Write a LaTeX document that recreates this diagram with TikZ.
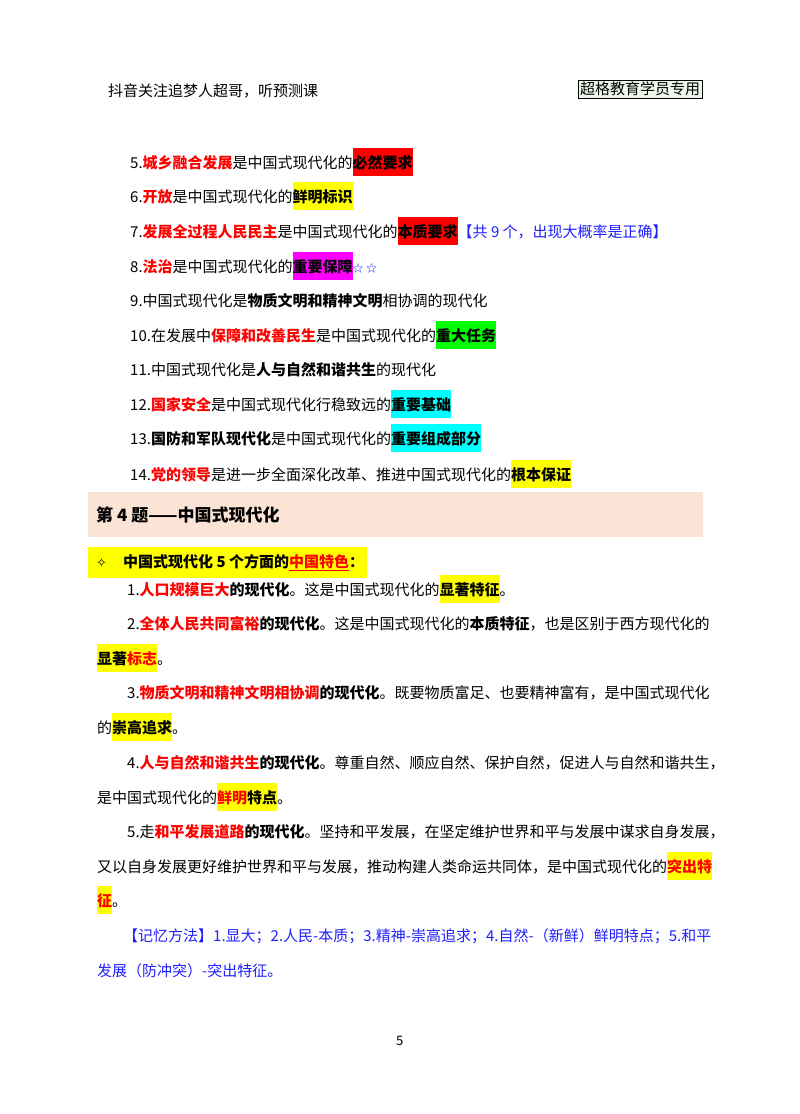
\documentclass[tikz,border=0pt]{standalone}
\usepackage{fontspec}
\setmainfont{Noto Sans CJK SC}
\newfontfamily\symfont{DejaVu Sans}
\definecolor{hred}{HTML}{FF0000}
\definecolor{hyel}{HTML}{FFFF00}
\definecolor{hmag}{HTML}{FF00FF}
\definecolor{hgrn}{HTML}{00FF00}
\definecolor{hcyn}{HTML}{00FFFF}
\definecolor{tblue}{HTML}{2020FF}
\definecolor{peach}{HTML}{FBE4D5}
\definecolor{boxbg}{HTML}{EEF6EA}
\newcommand\hlt[2]{{\setlength{\fboxsep}{0pt}\colorbox{#1}{\rule[-8pt]{0pt}{28pt}#2}}}
\newcommand\rd[1]{\textcolor{hred}{\textbf{#1}}}
\newcommand\bd[1]{\textbf{#1}}
\tikzset{ln/.style={anchor=base west,inner sep=0pt,font=\fontsize{15}{18}\selectfont}}
\begin{document}
\begin{tikzpicture}[x=1pt,y=-1pt]
\useasboundingbox (0,0) rectangle (800,1114);
\fill[white] (0,0) rectangle (800,1114);
\node[ln] (hdr) at (108,96) {抖音关注追梦人超哥，听预测课};
\node[anchor=center,draw=black,line width=0.8pt,fill=boxbg,inner sep=2pt,font=\fontsize{15}{18}\selectfont] (tag) at (640,89) {超格教育学员专用};
\node[ln] (l5) at (130,168) {5.\rd{城乡融合发展}是中国式现代化的\hlt{hred}{\bd{必然要求}}};
\node[ln] (l6) at (130,202) {6.\rd{开放}是中国式现代化的\hlt{hyel}{\bd{鲜明标识}}};
\node[ln] (l7) at (130,237) {7.\rd{发展全过程人民民主}是中国式现代化的\hlt{hred}{\bd{本质要求}}\textcolor{tblue}{【共 9 个，出现大概率是正确】}};
\node[ln] (l8) at (130,272) {8.\rd{法治}是中国式现代化的\hlt{hmag}{\bd{重要保障}}\textcolor{tblue}{\fontsize{11}{12}\selectfont ☆ ☆}};
\node[ln] (l9) at (130,306) {9.中国式现代化是\bd{物质文明和精神文明}相协调的现代化};
\node[ln] (l10) at (130,341) {10.在发展中\rd{保障和改善民生}是中国式现代化的\hlt{hgrn}{\bd{重大任务}}};
\node[ln] (l11) at (130,375) {11.中国式现代化是\bd{人与自然和谐共生}的现代化};
\node[ln] (l12) at (130,410) {12.\rd{国家安全}是中国式现代化行稳致远的\hlt{hcyn}{\bd{重要基础}}};
\node[ln] (l13) at (130,444) {13.\bd{国防和军队现代化}是中国式现代化的\hlt{hcyn}{\bd{重要组成部分}}};
\node[ln] (l14) at (130,480) {14.\rd{党的领导}是进一步全面深化改革、推进中国式现代化的\hlt{hyel}{\bd{根本保证}}};
\fill[peach] (88,492) rectangle (703,537);
\node[ln,font=\fontsize{17}{20}\selectfont\bfseries] (h4) at (96,521) {第 4 题——中国式现代化};
\fill[hyel] (88,547) rectangle (367,578);
\node[ln] (sub) at (96,567) {{\symfont\fontsize{13}{15}\selectfont ✧}\hspace{16pt}\bd{中国式现代化 5 个方面的\textcolor{hred}{\underline{中国特色}}：}};
\node[ln] (p1) at (127,595) {1.\rd{人口规模巨大}\bd{的现代化}。这是中国式现代化的\hlt{hyel}{\bd{显著特征}}。};
\node[ln] (p2a) at (127,629) {2.\rd{全体人民共同富裕}\bd{的现代化}。这是中国式现代化的\bd{本质特征}，也是区别于西方现代化的};
\node[ln] (p2b) at (97,664) {\hlt{hyel}{\bd{显著}\rd{标志}}。};
\node[ln] (p3a) at (127,698) {3.\rd{物质文明和精神文明相协调}\bd{的现代化}。既要物质富足、也要精神富有，是中国式现代化};
\node[ln] (p3b) at (97,733) {的\hlt{hyel}{\bd{崇高追求}}。};
\node[ln] (p4a) at (127,768) {4.\rd{人与自然和谐共生}\bd{的现代化}。尊重自然、顺应自然、保护自然，促进人与自然和谐共生，};
\node[ln] (p4b) at (97,803) {是中国式现代化的\hlt{hyel}{\rd{鲜明}\bd{特点}}。};
\node[ln] (p5a) at (127,837) {5.走\rd{和平发展道路}\bd{的现代化}。坚持和平发展，在坚定维护世界和平与发展中谋求自身发展，};
\node[ln] (p5b) at (97,872) {又以自身发展更好维护世界和平与发展，推动构建人类命运共同体，是中国式现代化的\hlt{hyel}{\rd{突出特}}};
\node[ln] (p5c) at (97,906) {\hlt{hyel}{\rd{征}}。};
\node[ln,text=tblue] (m1) at (123,941) {【记忆方法】1.显大；2.人民-本质；3.精神-崇高追求；4.自然-（新鲜）鲜明特点；5.和平};
\node[ln,text=tblue] (m2) at (97,976) {发展（防冲突）-突出特征。};
\node[ln,font=\fontsize{13}{15}\selectfont] (pg) at (396,1045) {5};
\end{tikzpicture}
\end{document}
